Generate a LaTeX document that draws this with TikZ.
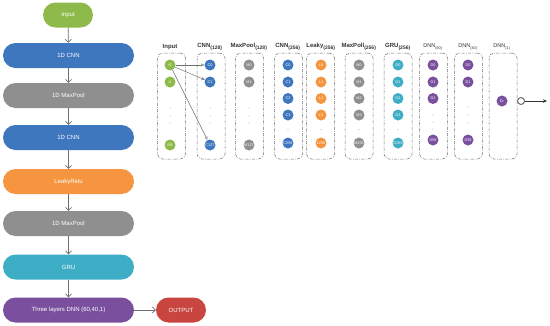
\documentclass[tikz,border=0pt]{standalone}
\usepackage{fontspec}
\setmainfont{Liberation Sans}
\usetikzlibrary{arrows.meta}
\definecolor{cgreen}{HTML}{8DBA4A}
\definecolor{cblue}{HTML}{3F77BE}
\definecolor{cgray}{HTML}{8F8F8F}
\definecolor{corange}{HTML}{F5953F}
\definecolor{cteal}{HTML}{3EAEC6}
\definecolor{cpurple}{HTML}{7A4F9E}
\definecolor{cred}{HTML}{C8463F}
\definecolor{cline}{HTML}{6E6E6E}
\tikzset{
  stage/.style={rectangle, rounded corners=12.5pt, minimum height=25pt, inner sep=0pt,
    text=white, font=\fontsize{6}{7}\selectfont},
  flow/.style={draw=cline, line width=0.7pt, -{Straight Barb[length=3pt,width=6pt]}},
  colbox/.style={draw=cline, rounded corners=5pt, line width=0.5pt,
    dash pattern=on 3pt off 1.3pt on 0.8pt off 1.3pt, minimum width=28pt, minimum height=106pt, inner sep=0pt},
  hdr/.style={font=\bfseries\fontsize{6}{7}\selectfont, text=black!80, inner sep=0pt},
  hdrl/.style={font=\fontsize{5.5}{6.5}\selectfont, text=black!80, inner sep=0pt},
  neuron/.style={circle, minimum size=11pt, inner sep=0pt, text=white, font=\fontsize{3.8}{4}\selectfont},
  link/.style={draw=cline, line width=0.45pt, -{Triangle[open,length=3pt,width=3pt]}},
  dotc/.style={fill=black!25}
}
\begin{document}
\begin{tikzpicture}[x=1pt,y=-1pt]
\useasboundingbox (0,0) rectangle (550,325);

% ---------- left flow ----------
\node[stage, fill=cgreen, minimum width=50pt] (in) at (68,15) {Input};
\node[stage, fill=cblue, minimum width=131pt] (s1) at (68.5,55.5) {1D CNN};
\node[stage, fill=cgray, minimum width=131pt] (s2) at (68.5,95.5) {1D MaxPool};
\node[stage, fill=cblue, minimum width=131pt] (s3) at (68.5,137.5) {1D CNN};
\node[stage, fill=corange, minimum width=131pt] (s4) at (68.5,181.5) {LeakyRelu};
\node[stage, fill=cgray, minimum width=131pt] (s5) at (68.5,223.5) {1D MaxPool};
\node[stage, fill=cteal, minimum width=131pt] (s6) at (68.5,267) {GRU};
\node[stage, fill=cpurple, minimum width=131pt] (s7) at (68.5,310) {Three layers DNN (60,40,1)};
\node[stage, fill=cred, minimum width=50pt] (out) at (181,310) {OUTPUT};

\draw[flow] (in) -- (s1);
\draw[flow] (s1) -- (s2);
\draw[flow] (s2) -- (s3);
\draw[flow] (s3) -- (s4);
\draw[flow] (s4) -- (s5);
\draw[flow] (s5) -- (s6);
\draw[flow] (s6) -- (s7);
\draw[flow] (s7) -- (out);

% ---------- right network ----------
% boxes
\node[colbox] (b1) at (171.5,106) {};
\node[colbox] (b2) at (211,106) {};
\node[colbox] (b3) at (249.5,106) {};
\node[colbox] (b4) at (288.5,106) {};
\node[colbox] (b5) at (320.5,106) {};
\node[colbox] (b6) at (359,106) {};
\node[colbox] (b7) at (398,106) {};
\node[colbox] (b8) at (433.5,106) {};
\node[colbox] (b9) at (468.5,106) {};
\node[colbox] (b10) at (503,106) {};

% headers
\node[hdr] (h1) at (170,47) {Input};
\node[hdr] (h2) at (210,47) {CNN\textsubscript{(128)}};
\node[hdr] (h3) at (249,47) {MaxPool\textsubscript{(128)}};
\node[hdr] (h4) at (288,47) {CNN\textsubscript{(256)}};
\node[hdr] (h5) at (321,47) {Leaky\textsubscript{(256)}};
\node[hdr] (h6) at (359,47) {MaxPoll\textsubscript{(256)}};
\node[hdr] (h7) at (398,47) {GRU\textsubscript{(256)}};
\node[hdrl] (h8) at (433,47) {DNN\textsubscript{(60)}};
\node[hdrl] (h9) at (468,47) {DNN\textsubscript{(40)}};
\node[hdrl] (h10) at (502,47) {DNN\textsubscript{(1)}};

% input
\node[neuron, fill=cgreen] (i0) at (170,65) {i0};
\node[neuron, fill=cgreen] (i1) at (170,82) {i1};
\node[neuron, fill=cgreen] (i59) at (170,145) {i59};
% CNN 128
\node[neuron, fill=cblue] (c0) at (210,65) {C0};
\node[neuron, fill=cblue] (c1) at (210,82) {C1};
\node[neuron, fill=cblue] (c127) at (210,145) {C127};
% MaxPool 128
\node[neuron, fill=cgray] (m0) at (249,65) {M0};
\node[neuron, fill=cgray] (m1) at (249,82) {M1};
\node[neuron, fill=cgray] (m127) at (249,145) {M127};
% CNN 256
\node[neuron, fill=cblue] (cc0) at (288,65) {C0};
\node[neuron, fill=cblue] (cc1) at (288,82) {C1};
\node[neuron, fill=cblue] (cc2) at (288,98.5) {C2};
\node[neuron, fill=cblue] (cc3) at (288,115) {C3};
\node[neuron, fill=cblue] (cc255) at (288,143) {C255};
% Leaky
\node[neuron, fill=corange] (l0) at (321,65) {L0};
\node[neuron, fill=corange] (l1) at (321,82) {L1};
\node[neuron, fill=corange] (l2) at (321,98.5) {L2};
\node[neuron, fill=corange] (l3) at (321,115) {L3};
\node[neuron, fill=corange] (l255) at (321,143) {L255};
% MaxPool 256
\node[neuron, fill=cgray] (n0) at (359,65) {M0};
\node[neuron, fill=cgray] (n1) at (359,82) {M1};
\node[neuron, fill=cgray] (n2) at (359,98.5) {M2};
\node[neuron, fill=cgray] (n3) at (359,115) {M3};
\node[neuron, fill=cgray] (n255) at (359,143) {M255};
% GRU
\node[neuron, fill=cteal] (g0) at (398,65) {G0};
\node[neuron, fill=cteal] (g1) at (398,82) {G1};
\node[neuron, fill=cteal] (g2) at (398,98.5) {G2};
\node[neuron, fill=cteal] (g3) at (398,115) {G3};
\node[neuron, fill=cteal] (g255) at (398,143) {G255};
% DNN 60
\node[neuron, fill=cpurple] (d0) at (433,65) {D0};
\node[neuron, fill=cpurple] (d1) at (433,82) {D1};
\node[neuron, fill=cpurple] (d2) at (433,98.5) {D2};
\node[neuron, fill=cpurple] (d59) at (433,140) {D59};
% DNN 40
\node[neuron, fill=cpurple] (e0) at (468,65) {D0};
\node[neuron, fill=cpurple] (e1) at (468,82) {D1};
\node[neuron, fill=cpurple] (e39) at (468,140) {D39};
% DNN 1
\node[neuron, fill=cpurple] (dr) at (502,101) {Dr};
\node[circle, draw=cline, line width=1pt, minimum size=7pt, inner sep=0pt, fill=white] (oc) at (521,101) {};
\coordinate (oend) at (547,101);
\draw[-{Stealth[length=4pt,width=3.5pt]}, line width=0.6pt, black!80] (oc) -- (oend);

% links input -> CNN
\draw[link] (i0) -- (c0);
\draw[link] (i0) -- (c1);
\draw[link] (i0) -- (c127);

% ellipsis dots
\foreach \x in {170,210,249} { \foreach \y in {108,116,123} { \fill[dotc] (\x,\y) circle (0.7pt); } }
\foreach \x in {288,321,359,398} { \fill[dotc] (\x,129.5) circle (0.7pt); }
\foreach \y in {115,122,129} { \fill[dotc] (433,\y) circle (0.7pt); }
\foreach \y in {107,115,123} { \fill[dotc] (468,\y) circle (0.7pt); }
\end{tikzpicture}
\end{document}
